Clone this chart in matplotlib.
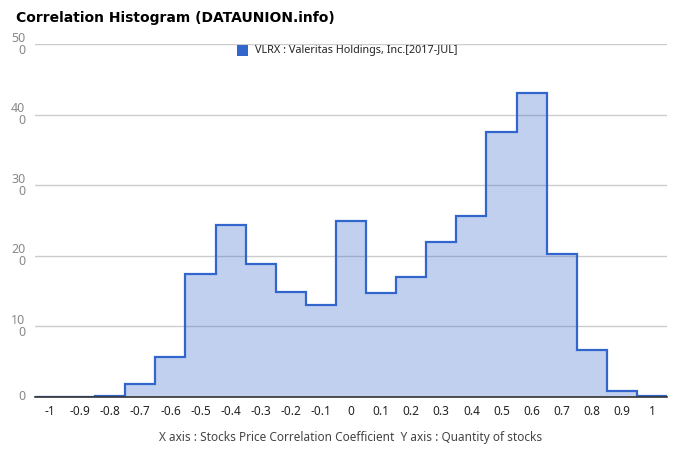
import numpy as np
import matplotlib
matplotlib.use("Agg")
import matplotlib.pyplot as plt
from matplotlib.patches import Rectangle

plt.rcParams['font.family'] = ['Noto Sans', 'DejaVu Sans']

x_ticks = [-1, -0.9, -0.8, -0.7, -0.6, -0.5, -0.4, -0.3, -0.2, -0.1, 0,
           0.1, 0.2, 0.3, 0.4, 0.5, 0.6, 0.7, 0.8, 0.9, 1]
x_tick_labels = ['-1', '-0.9', '-0.8', '-0.7', '-0.6', '-0.5', '-0.4', '-0.3', '-0.2', '-0.1', '0',
                 '0.1', '0.2', '0.3', '0.4', '0.5', '0.6', '0.7', '0.8', '0.9', '1']
counts = [0, 0, 1, 19, 56, 174, 244, 189, 149, 130, 250,
          147, 170, 220, 256, 375, 430, 202, 67, 9, 1]
y_ticks = [0, 100, 200, 300, 400, 500]
y_tick_labels = ['0', '10\n0', '20\n0', '30\n0', '40\n0', '50\n0']
series_name = 'VLRX : Valeritas Holdings, Inc.[2017-JUL]'
title = 'Correlation Histogram (DATAUNION.info)'
xlabel = 'X axis : Stocks Price Correlation Coefficient  Y axis : Quantity of stocks'

color = '#3366cc'
fig = plt.figure(figsize=(6.8, 4.62), dpi=100)
ax = fig.add_axes([35/680, 1-397/462, (667-35)/680, (397-44)/462])

xt = np.array(x_ticks)
edges = np.concatenate([xt - 0.05, [xt[-1] + 0.05]])
vals = np.array(counts, dtype=float)
ax.stairs(vals, edges, fill=True, color=color, alpha=0.3, linewidth=0)
ax.stairs(vals, edges, baseline=None, color=color, linewidth=1.6, zorder=3)

ax.set_xlim(edges[0], edges[-1])
ax.set_ylim(0, 500)
ax.set_yticks(y_ticks)
ax.set_yticklabels(y_tick_labels, fontsize=9, color='#888888', linespacing=0.9,
                   ha='right', va='center', multialignment='right')
ax.set_xticks(x_ticks)
ax.set_xticklabels(x_tick_labels, fontsize=8.5, color='#222222')
ax.tick_params(axis='both', length=0)
ax.tick_params(axis='y', pad=7)
ax.tick_params(axis='x', pad=6)
ax.grid(axis='y', color='#cccccc', linewidth=1)
ax.set_axisbelow(True)
for s in ['top', 'right', 'left']:
    ax.spines[s].set_visible(False)
ax.spines['bottom'].set_color('#333333')
ax.spines['bottom'].set_linewidth(1.2)
ax.spines['bottom'].set_zorder(4)

fig.text(16/680, 1-18/462, title, fontsize=10, fontweight='bold', color='#000000',
         ha='left', va='center', family=['DejaVu Sans'])

# legend
fig.patches.append(Rectangle((237/680, 1-56/462), 11/680, 11/462, transform=fig.transFigure,
                             facecolor=color, edgecolor='none'))
fig.text(255/680, 1-50.5/462, series_name, fontsize=7.8, color='#222222', ha='left', va='center')

fig.text(351/680, 1-437/462, xlabel, fontsize=8.5, color='#444444', ha='center', va='center')

fig.savefig('out.png', dpi=100)
